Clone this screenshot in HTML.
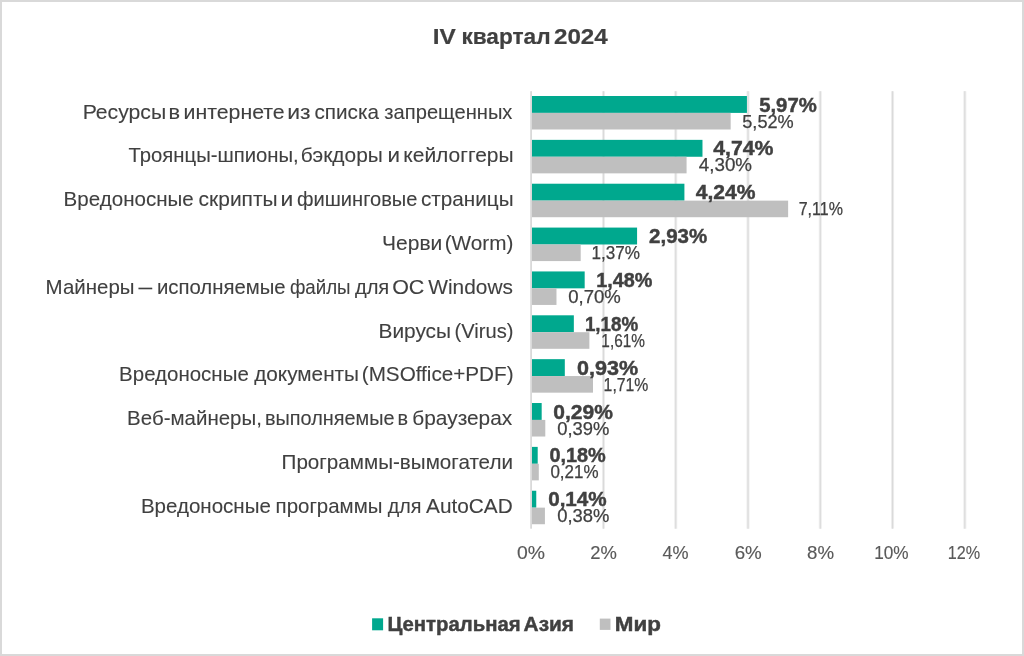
<!DOCTYPE html>
<html><head><meta charset="utf-8">
<style>
html,body{margin:0;padding:0;background:#fff;}
body{width:1024px;height:656px;overflow:hidden;position:relative;}
.frame{position:absolute;left:0;top:0;width:1020px;height:652px;border:2px solid #D9D9D9;background:#fff;}
svg{position:absolute;left:0;top:0;will-change:transform;}
text{font-family:"Liberation Sans",sans-serif;filter:blur(0.2px);}
.cat{font-size:21.0px;fill:#404040;stroke:#404040;stroke-width:0.1px;}
.vb{font-size:20.4px;font-weight:bold;fill:#404040;stroke:#404040;stroke-width:0.45px;}
.vg{font-size:18.1px;fill:#404040;stroke:#404040;stroke-width:0.25px;}
.ax{font-size:18.5px;fill:#595959;stroke:#595959;stroke-width:0.15px;}
.title{font-size:22.6px;font-weight:bold;fill:#404040;stroke:#404040;stroke-width:0.2px;}
.leg{font-size:20.9px;font-weight:bold;fill:#404040;stroke:#404040;stroke-width:0.45px;}
</style></head>
<body><div class="frame"></div>
<svg width="1024" height="656" viewBox="0 0 1024 656">
<rect x="601.97" y="91.2" width="3" height="437.5" fill="#EDEDED"/>
<rect x="602.97" y="91.2" width="1" height="437.5" fill="#D9D9D9"/>
<rect x="674.24" y="91.2" width="3" height="437.5" fill="#EDEDED"/>
<rect x="675.24" y="91.2" width="1" height="437.5" fill="#D9D9D9"/>
<rect x="746.51" y="91.2" width="3" height="437.5" fill="#EDEDED"/>
<rect x="747.51" y="91.2" width="1" height="437.5" fill="#D9D9D9"/>
<rect x="818.78" y="91.2" width="3" height="437.5" fill="#EDEDED"/>
<rect x="819.78" y="91.2" width="1" height="437.5" fill="#D9D9D9"/>
<rect x="891.05" y="91.2" width="3" height="437.5" fill="#EDEDED"/>
<rect x="892.05" y="91.2" width="1" height="437.5" fill="#D9D9D9"/>
<rect x="963.32" y="91.2" width="3" height="437.5" fill="#EDEDED"/>
<rect x="964.32" y="91.2" width="1" height="437.5" fill="#D9D9D9"/>
<rect x="532.00" y="96.00" width="214.93" height="16.9" fill="#00A88E"/>
<rect x="532.00" y="112.90" width="198.67" height="16.6" fill="#BFBFBF"/>
<rect x="532.00" y="139.86" width="170.48" height="16.9" fill="#00A88E"/>
<rect x="532.00" y="156.76" width="154.58" height="16.6" fill="#BFBFBF"/>
<rect x="532.00" y="183.72" width="152.41" height="16.9" fill="#00A88E"/>
<rect x="532.00" y="200.62" width="256.12" height="16.6" fill="#BFBFBF"/>
<rect x="532.00" y="227.58" width="105.08" height="16.9" fill="#00A88E"/>
<rect x="532.00" y="244.48" width="48.70" height="16.6" fill="#BFBFBF"/>
<rect x="532.00" y="271.44" width="52.68" height="16.9" fill="#00A88E"/>
<rect x="532.00" y="288.34" width="24.49" height="16.6" fill="#BFBFBF"/>
<rect x="532.00" y="315.30" width="41.84" height="16.9" fill="#00A88E"/>
<rect x="532.00" y="332.20" width="57.38" height="16.6" fill="#BFBFBF"/>
<rect x="532.00" y="359.16" width="32.81" height="16.9" fill="#00A88E"/>
<rect x="532.00" y="376.06" width="60.99" height="16.6" fill="#BFBFBF"/>
<rect x="532.00" y="403.02" width="9.68" height="16.9" fill="#00A88E"/>
<rect x="532.00" y="419.92" width="13.29" height="16.6" fill="#BFBFBF"/>
<rect x="532.00" y="446.88" width="5.70" height="16.9" fill="#00A88E"/>
<rect x="532.00" y="463.78" width="6.79" height="16.6" fill="#BFBFBF"/>
<rect x="532.00" y="490.74" width="4.26" height="16.9" fill="#00A88E"/>
<rect x="532.00" y="507.64" width="12.93" height="16.6" fill="#BFBFBF"/>
<rect x="530.20" y="91.2" width="1.8" height="437.5" fill="#D9D9D9"/>
<text x="82.65" y="118.70" class="cat" textLength="83.54" lengthAdjust="spacingAndGlyphs">Ресурсы</text>
<text x="168.57" y="118.70" class="cat" textLength="11.58" lengthAdjust="spacingAndGlyphs">в</text>
<text x="183.57" y="118.70" class="cat" textLength="101.15" lengthAdjust="spacingAndGlyphs">интернете</text>
<text x="287.30" y="118.70" class="cat" textLength="23.31" lengthAdjust="spacingAndGlyphs">из</text>
<text x="314.42" y="118.70" class="cat" textLength="64.50" lengthAdjust="spacingAndGlyphs">списка</text>
<text x="384.35" y="118.70" class="cat" textLength="128.10" lengthAdjust="spacingAndGlyphs">запрещенных</text>
<text x="128.54" y="162.47" class="cat" textLength="170.19" lengthAdjust="spacingAndGlyphs">Троянцы-шпионы,</text>
<text x="300.80" y="162.47" class="cat" textLength="82.04" lengthAdjust="spacingAndGlyphs">бэкдоры</text>
<text x="387.43" y="162.47" class="cat" textLength="12.50" lengthAdjust="spacingAndGlyphs">и</text>
<text x="403.28" y="162.47" class="cat" textLength="110.35" lengthAdjust="spacingAndGlyphs">кейлоггеры</text>
<text x="63.60" y="206.24" class="cat" textLength="130.17" lengthAdjust="spacingAndGlyphs">Вредоносные</text>
<text x="198.61" y="206.24" class="cat" textLength="79.02" lengthAdjust="spacingAndGlyphs">скрипты</text>
<text x="280.40" y="206.24" class="cat" textLength="12.77" lengthAdjust="spacingAndGlyphs">и</text>
<text x="296.95" y="206.24" class="cat" textLength="120.55" lengthAdjust="spacingAndGlyphs">фишинговые</text>
<text x="421.02" y="206.24" class="cat" textLength="92.58" lengthAdjust="spacingAndGlyphs">страницы</text>
<text x="382.07" y="250.01" class="cat" textLength="60.27" lengthAdjust="spacingAndGlyphs">Черви</text>
<text x="444.70" y="250.01" class="cat" textLength="68.72" lengthAdjust="spacingAndGlyphs">(Worm)</text>
<text x="45.61" y="293.78" class="cat" textLength="88.92" lengthAdjust="spacingAndGlyphs">Майнеры</text>
<text x="138.40" y="293.78" class="cat" textLength="13.70" lengthAdjust="spacingAndGlyphs">—</text>
<text x="156.98" y="293.78" class="cat" textLength="128.69" lengthAdjust="spacingAndGlyphs">исполняемые</text>
<text x="289.90" y="293.78" class="cat" textLength="60.70" lengthAdjust="spacingAndGlyphs">файлы</text>
<text x="354.90" y="293.78" class="cat" textLength="34.38" lengthAdjust="spacingAndGlyphs">для</text>
<text x="392.18" y="293.78" class="cat" textLength="32.18" lengthAdjust="spacingAndGlyphs">ОС</text>
<text x="428.30" y="293.78" class="cat" textLength="84.62" lengthAdjust="spacingAndGlyphs">Windows</text>
<text x="378.48" y="337.55" class="cat" textLength="72.54" lengthAdjust="spacingAndGlyphs">Вирусы</text>
<text x="454.54" y="337.55" class="cat" textLength="58.94" lengthAdjust="spacingAndGlyphs">(Virus)</text>
<text x="119.11" y="381.32" class="cat" textLength="129.66" lengthAdjust="spacingAndGlyphs">Вредоносные</text>
<text x="254.19" y="381.32" class="cat" textLength="104.86" lengthAdjust="spacingAndGlyphs">документы</text>
<text x="361.76" y="381.32" class="cat" textLength="151.76" lengthAdjust="spacingAndGlyphs">(MSOffice+PDF)</text>
<text x="127.11" y="425.09" class="cat" textLength="134.76" lengthAdjust="spacingAndGlyphs">Веб-майнеры,</text>
<text x="265.01" y="425.09" class="cat" textLength="129.57" lengthAdjust="spacingAndGlyphs">выполняемые</text>
<text x="397.61" y="425.09" class="cat" textLength="10.56" lengthAdjust="spacingAndGlyphs">в</text>
<text x="412.30" y="425.09" class="cat" textLength="99.96" lengthAdjust="spacingAndGlyphs">браузерах</text>
<text x="281.55" y="468.86" class="cat" textLength="231.44" lengthAdjust="spacingAndGlyphs">Программы-вымогатели</text>
<text x="140.91" y="512.63" class="cat" textLength="129.97" lengthAdjust="spacingAndGlyphs">Вредоносные</text>
<text x="275.57" y="512.63" class="cat" textLength="106.86" lengthAdjust="spacingAndGlyphs">программы</text>
<text x="387.70" y="512.63" class="cat" textLength="33.65" lengthAdjust="spacingAndGlyphs">для</text>
<text x="426.10" y="512.63" class="cat" textLength="86.66" lengthAdjust="spacingAndGlyphs">AutoCAD</text>
<text x="759.19" y="111.50" class="vb" textLength="57.53" lengthAdjust="spacingAndGlyphs">5,97%</text>
<text x="742.27" y="127.50" class="vg" textLength="51.47" lengthAdjust="spacingAndGlyphs">5,52%</text>
<text x="713.28" y="155.36" class="vb" textLength="60.26" lengthAdjust="spacingAndGlyphs">4,74%</text>
<text x="698.83" y="171.36" class="vg" textLength="53.24" lengthAdjust="spacingAndGlyphs">4,30%</text>
<text x="695.68" y="199.22" class="vb" textLength="59.75" lengthAdjust="spacingAndGlyphs">4,24%</text>
<text x="798.66" y="215.22" class="vg" textLength="44.22" lengthAdjust="spacingAndGlyphs">7,11%</text>
<text x="649.08" y="243.08" class="vb" textLength="58.04" lengthAdjust="spacingAndGlyphs">2,93%</text>
<text x="591.52" y="259.08" class="vg" textLength="48.49" lengthAdjust="spacingAndGlyphs">1,37%</text>
<text x="596.26" y="286.94" class="vb" textLength="56.14" lengthAdjust="spacingAndGlyphs">1,48%</text>
<text x="568.26" y="302.94" class="vg" textLength="52.60" lengthAdjust="spacingAndGlyphs">0,70%</text>
<text x="584.93" y="330.80" class="vb" textLength="53.25" lengthAdjust="spacingAndGlyphs">1,18%</text>
<text x="601.35" y="346.80" class="vg" textLength="43.60" lengthAdjust="spacingAndGlyphs">1,61%</text>
<text x="577.14" y="374.66" class="vb" textLength="61.11" lengthAdjust="spacingAndGlyphs">0,93%</text>
<text x="603.62" y="390.66" class="vg" textLength="44.74" lengthAdjust="spacingAndGlyphs">1,71%</text>
<text x="553.26" y="418.52" class="vb" textLength="59.58" lengthAdjust="spacingAndGlyphs">0,29%</text>
<text x="557.16" y="434.52" class="vg" textLength="52.19" lengthAdjust="spacingAndGlyphs">0,39%</text>
<text x="549.40" y="462.38" class="vb" textLength="56.40" lengthAdjust="spacingAndGlyphs">0,18%</text>
<text x="550.42" y="478.38" class="vg" textLength="48.18" lengthAdjust="spacingAndGlyphs">0,21%</text>
<text x="548.17" y="506.24" class="vb" textLength="58.55" lengthAdjust="spacingAndGlyphs">0,14%</text>
<text x="557.26" y="522.24" class="vg" textLength="52.19" lengthAdjust="spacingAndGlyphs">0,38%</text>
<text x="516.97" y="559.10" class="ax" textLength="28.01" lengthAdjust="spacingAndGlyphs">0%</text>
<text x="590.18" y="559.10" class="ax" textLength="26.62" lengthAdjust="spacingAndGlyphs">2%</text>
<text x="662.59" y="559.10" class="ax" textLength="26.09" lengthAdjust="spacingAndGlyphs">4%</text>
<text x="734.66" y="559.10" class="ax" textLength="27.15" lengthAdjust="spacingAndGlyphs">6%</text>
<text x="807.01" y="559.10" class="ax" textLength="27.00" lengthAdjust="spacingAndGlyphs">8%</text>
<text x="874.21" y="559.10" class="ax" textLength="34.42" lengthAdjust="spacingAndGlyphs">10%</text>
<text x="947.79" y="559.10" class="ax" textLength="32.41" lengthAdjust="spacingAndGlyphs">12%</text>
<text x="432.80" y="44.40" class="title" textLength="23.08" lengthAdjust="spacingAndGlyphs">IV</text>
<text x="461.41" y="44.40" class="title" textLength="89.16" lengthAdjust="spacingAndGlyphs">квартал</text>
<text x="553.95" y="44.40" class="title" textLength="53.82" lengthAdjust="spacingAndGlyphs">2024</text>
<rect x="372.1" y="618.3" width="11" height="12" fill="#00A88E"/>
<text x="387.38" y="631.10" class="leg" textLength="133.27" lengthAdjust="spacingAndGlyphs">Центральная</text>
<text x="523.58" y="631.10" class="leg" textLength="50.48" lengthAdjust="spacingAndGlyphs">Азия</text>
<rect x="599.8" y="618.6" width="10.7" height="11.3" fill="#BFBFBF"/>
<text x="614.89" y="631.10" class="leg" textLength="46.13" lengthAdjust="spacingAndGlyphs">Мир</text>
</svg>
</body></html>
